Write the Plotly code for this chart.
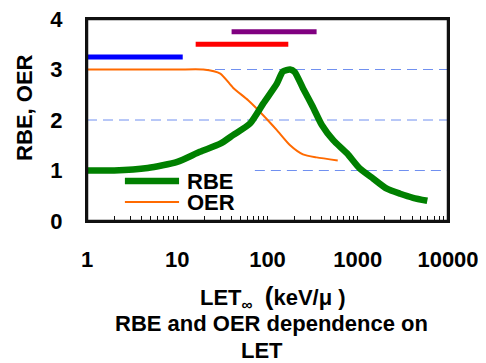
import plotly.graph_objects as go

# RBE curve (LET in keV/um, RBE)
rbe_let = [1, 2, 4.7, 10, 17.8, 30, 41.5, 64, 90, 127, 148, 178, 200, 247, 318, 400, 535, 760, 1050, 1480, 2100, 2950, 4100, 5900]
rbe_val = [1.0, 1.0, 1.05, 1.17, 1.37, 1.53, 1.70, 1.93, 2.33, 2.72, 2.96, 3.0, 2.95, 2.63, 2.26, 1.90, 1.60, 1.34, 1.04, 0.84, 0.64, 0.54, 0.46, 0.40]

# OER curve
oer_let = [1, 10, 19.4, 30, 41.5, 61, 90, 127, 178, 247, 350, 600]
oer_val = [3.0, 3.0, 3.0, 2.92, 2.64, 2.39, 2.09, 1.80, 1.50, 1.32, 1.26, 1.20]

# LET range bars
bar_starts = [1, 16, 40]
bar_ends = [11.5, 170, 350]
bar_levels = [3.25, 3.5, 3.75]
bar_colors = ["#0000FF", "#FF0000", "#800080"]

decades = [1, 10, 100, 1000]
x_tickvals = []
x_ticktext = []
for d in decades:
    for m in range(1, 10):
        x_tickvals.append(m * d)
        x_ticktext.append(f"<b>{d}</b>" if m == 1 else "")
x_tickvals.append(10000)
x_ticktext.append("<b>10000</b>")
y_tickvals = [0, 1, 2, 3, 4]

FONT = "Liberation Sans, Arial, sans-serif"
FRAME = "#111111"

fig = go.Figure()

for s, e, lv, c in zip(bar_starts, bar_ends, bar_levels, bar_colors):
    fig.add_trace(go.Scatter(x=[s, e], y=[lv, lv], mode="lines",
                             line=dict(color=c, width=5), showlegend=False, hoverinfo="skip"))

fig.add_trace(go.Scatter(x=oer_let, y=oer_val, mode="lines", name="OER",
                         line=dict(color="#FF6A00", width=2, shape="spline", smoothing=0.6),
                         showlegend=False))
fig.add_trace(go.Scatter(x=rbe_let, y=rbe_val, mode="lines", name="RBE",
                         line=dict(color="#008000", width=6.5, shape="spline", smoothing=0.6),
                         showlegend=False))

grid_dash = "10px,6px"
grid_color = "#7090F0"
# gridlines
for yv, x0 in [(3, 0), (2, 0), (1, 0.465)]:
    fig.add_shape(type="line", xref="paper", yref="y", x0=x0, x1=1, y0=yv, y1=yv,
                  line=dict(color=grid_color, width=1, dash=grid_dash), layer="below")

# plot frame as four lines
for (fx0, fy0, fx1, fy1) in [(0, 0, 1, 0), (0, 1, 1, 1), (0, 0, 0, 1), (1, 0, 1, 1)]:
    fig.add_shape(type="line", xref="paper", yref="paper", x0=fx0, y0=fy0, x1=fx1, y1=fy1,
                  line=dict(color=FRAME, width=2.5), layer="above")

# manual legend
fig.add_shape(type="line", xref="paper", yref="paper", x0=0.105, x1=0.255, y0=0.198, y1=0.198,
              line=dict(color="#008000", width=6.5))
fig.add_shape(type="line", xref="paper", yref="paper", x0=0.105, x1=0.255, y0=0.094, y1=0.094,
              line=dict(color="#FF6A00", width=2))
fig.add_annotation(xref="paper", yref="paper", x=0.271, y=0.198, text="<b>RBE</b>",
                   showarrow=False, xanchor="left", yanchor="middle",
                   font=dict(family=FONT, size=22, color="black"))
fig.add_annotation(xref="paper", yref="paper", x=0.271, y=0.094, text="<b>OER</b>",
                   showarrow=False, xanchor="left", yanchor="middle",
                   font=dict(family=FONT, size=22, color="black"))

# x title
fig.add_annotation(xref="paper", yref="paper", x=0.3075, y=0, yshift=-76,
                   text="<b>LET<sub>∞</sub>&nbsp;&nbsp;<span style='font-size:26px'>(</span>keV/μ&nbsp;)</b>",
                   showarrow=False, xanchor="left", yanchor="middle",
                   font=dict(family=FONT, size=22, color="black"))
# caption
fig.add_annotation(xref="paper", yref="paper", x=0.511, y=0, yshift=-102,
                   text="<b>RBE and OER dependence on</b>", showarrow=False,
                   xanchor="center", yanchor="middle",
                   font=dict(family=FONT, size=22, color="black"))
fig.add_annotation(xref="paper", yref="paper", x=0.486, y=0, yshift=-129,
                   text="<b>LET</b>", showarrow=False,
                   xanchor="center", yanchor="middle",
                   font=dict(family=FONT, size=22, color="black"))
# y title
fig.add_annotation(xref="paper", yref="paper", x=0, xshift=-62, y=0.56,
                   text="<b>RBE, OER</b>", showarrow=False, textangle=-90,
                   xanchor="center", yanchor="middle",
                   font=dict(family=FONT, size=22, color="black"))

# page body has an 8px margin, so the figure is laid out 8px smaller/shifted
fig.update_layout(
    width=478, height=355,
    margin=dict(l=79, r=38, t=11, b=142, autoexpand=False),
    paper_bgcolor="white", plot_bgcolor="white",
    font=dict(family=FONT, size=22, color="black"),
    xaxis=dict(type="log", range=[0, 4], tickmode="array", tickvals=x_tickvals, ticktext=x_ticktext,
               showgrid=False, zeroline=False, showline=True, mirror=True, automargin=False,
               linecolor=FRAME, linewidth=2, ticks="inside", ticklen=5, tickcolor=FRAME,
               tickwidth=1.2, ticklabelstandoff=18, ticklabeloverflow="allow",
               tickfont=dict(family=FONT, size=22, color="black")),
    yaxis=dict(range=[0, 4], tickmode="array", tickvals=y_tickvals, ticktext=[f"<b>{v}</b>" for v in y_tickvals],
               showgrid=False, zeroline=False, showline=True, mirror=True, automargin=False,
               linecolor=FRAME, linewidth=2, ticks="", ticklabelstandoff=18, ticklabeloverflow="allow",
               tickfont=dict(family=FONT, size=22, color="black")),
)

fig.write_html("out.html", config={"displayModeBar": False})
